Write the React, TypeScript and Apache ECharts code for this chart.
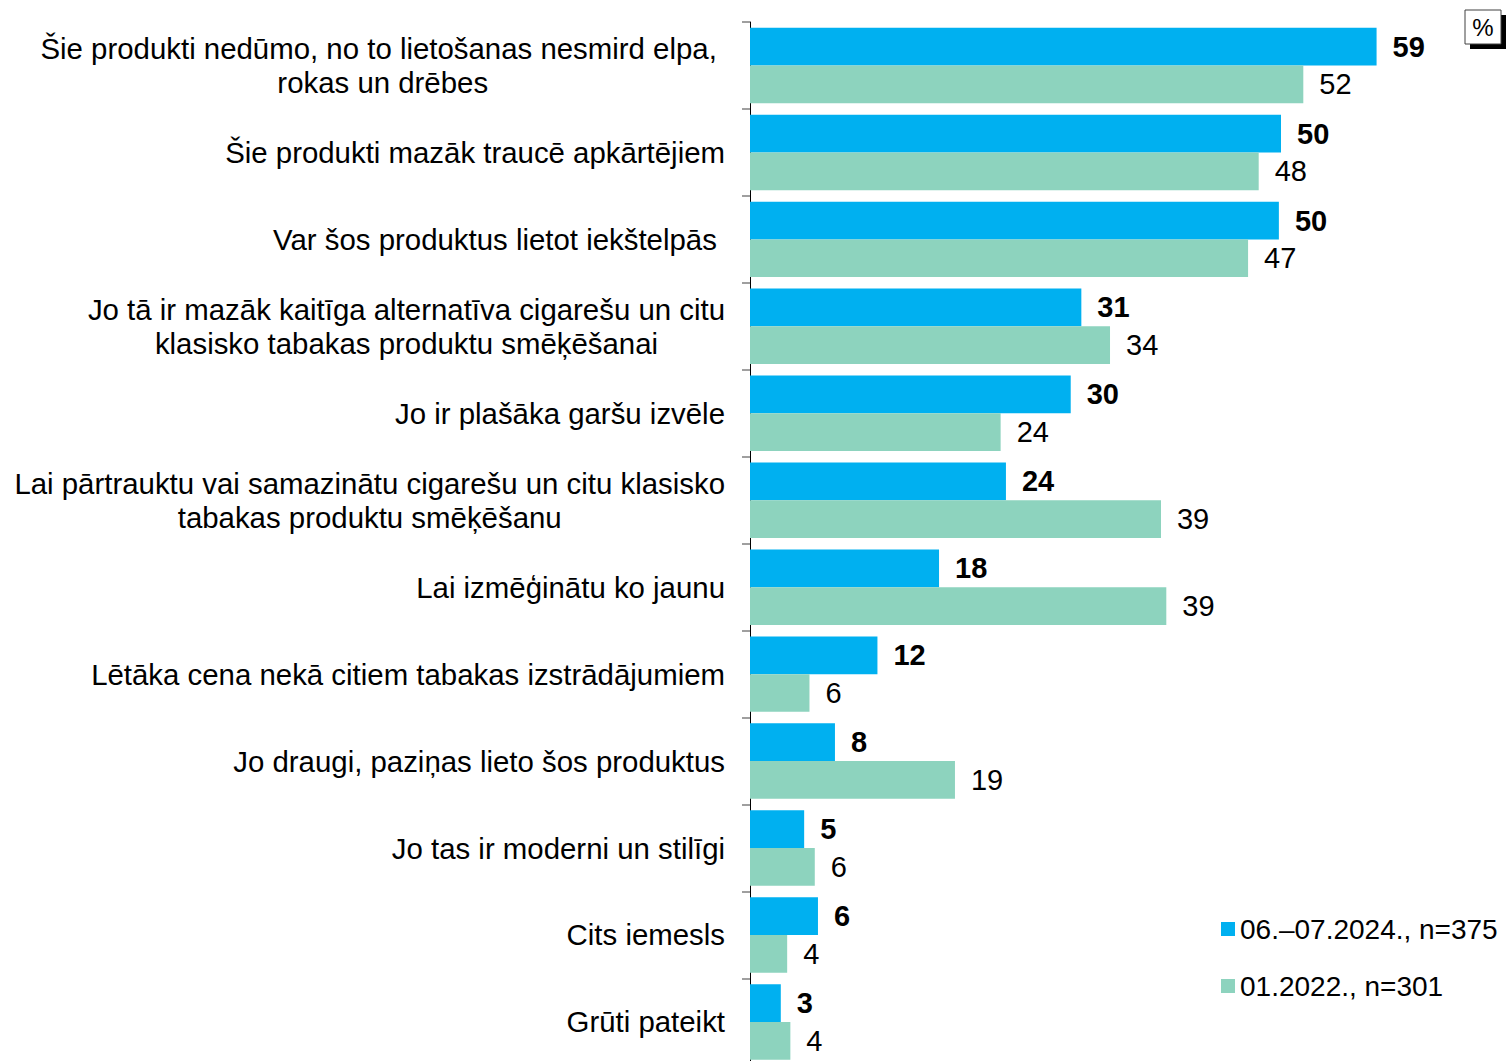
import React, { useEffect, useRef } from "react";
import * as echarts from "echarts";

const categories = [
  "Šie produkti nedūmo, no to lietošanas nesmird elpa, \nrokas un drēbes",
  "Šie produkti mazāk traucē apkārtējiem",
  "Var šos produktus lietot iekštelpās ",
  "Jo tā ir mazāk kaitīga alternatīva cigarešu un citu\nklasisko tabakas produktu smēķēšanai",
  "Jo ir plašāka garšu izvēle",
  "Lai pārtrauktu vai samazinātu cigarešu un citu klasisko\ntabakas produktu smēķēšanu",
  "Lai izmēģinātu ko jaunu",
  "Lētāka cena nekā citiem tabakas izstrādājumiem",
  "Jo draugi, paziņas lieto šos produktus",
  "Jo tas ir moderni un stilīgi",
  "Cits iemesls",
  "Grūti pateikt",
];

const series2024Name = "06.–07.2024., n=375";
const series2022Name = "01.2022., n=301";

const values2024 = [59, 50, 49.8, 31.2, 30.2, 24.1, 17.8, 12, 8, 5.1, 6.4, 2.9];
const values2022 = [52.1, 47.9, 46.9, 33.9, 23.6, 38.7, 39.2, 5.6, 19.3, 6.1, 3.5, 3.8];

const xMin = 0;
const xMax = 70;

export default function App() {
  const ref = useRef<HTMLDivElement>(null);
  useEffect(() => {
    if (!ref.current) return;
    const chart = echarts.init(ref.current, null, { renderer: "svg" });
    const font = "'Liberation Sans', Arial, sans-serif";
    chart.setOption({
      animation: false,
      backgroundColor: "#fff",
      textStyle: { fontFamily: font },
      grid: { left: 750, top: 22, width: (xMax - xMin) * 10.62, height: 12 * 86.95 },
      xAxis: { type: "value", min: xMin, max: xMax, show: false },
      yAxis: {
        type: "category",
        inverse: true,
        data: categories,
        axisLine: { show: true, lineStyle: { color: "#000", width: 1 } },
        axisTick: { show: true, length: 8, lineStyle: { color: "#7f7f7f", width: 1.5 } },
        axisLabel: {
          margin: 25,
          color: "#000",
          fontSize: 29.4,
          fontFamily: font,
          lineHeight: 34,
          formatter: (v: string) =>
            v
              .split("\n")
              .map((l) => `{c|${l}}`)
              .join("\n"),
          rich: {
            c: { align: "center", fontSize: 29.4, lineHeight: 34, color: "#000", fontFamily: font },
          },
        },
      },
      legend: {
        orient: "vertical",
        left: 1216,
        top: 910,
        itemWidth: 14,
        itemHeight: 14,
        itemGap: 29,
        icon: "rect",
        textStyle: { fontSize: 28, color: "#000", fontFamily: font },
        data: [series2024Name, series2022Name],
      },
      series: [
        {
          name: series2024Name,
          type: "bar",
          data: values2024,
          barGap: "0%",
          barCategoryGap: "13.2%",
          itemStyle: { color: "#00B0F0" },
          label: {
            show: true,
            position: "right",
            distance: 16,
            fontSize: 29,
            fontWeight: "bold",
            color: "#000",
            fontFamily: font,
            formatter: (p: any) => String(Math.round(p.value)),
          },
        },
        {
          name: series2022Name,
          type: "bar",
          data: values2022,
          barGap: "0%",
          barCategoryGap: "13.2%",
          itemStyle: { color: "#8DD3BE" },
          label: {
            show: true,
            position: "right",
            distance: 16,
            fontSize: 29,
            color: "#000",
            fontFamily: font,
            formatter: (p: any) => String(Math.round(p.value)),
          },
        },
      ],
      graphic: [
        { type: "rect", shape: { x: 1470, y: 15, width: 36, height: 34 }, style: { fill: "#000" } },
        {
          type: "rect",
          shape: { x: 1465, y: 10, width: 36, height: 34 },
          style: { fill: "#fff", stroke: "#404040", lineWidth: 1 },
        },
        {
          type: "text",
          x: 1483,
          y: 27,
          style: {
            text: "%",
            fontSize: 24,
            fill: "#000",
            fontFamily: font,
            align: "center",
            verticalAlign: "middle",
          },
        },
      ],
    });
    return () => chart.dispose();
  }, []);
  return (
    <div
      style={{
        position: "fixed",
        left: 0,
        top: 0,
        width: 1506,
        height: 1061,
        overflow: "hidden",
        background: "#fff",
      }}
    >
      <div ref={ref} style={{ width: 1506, height: 1072 }} />
    </div>
  );
}
